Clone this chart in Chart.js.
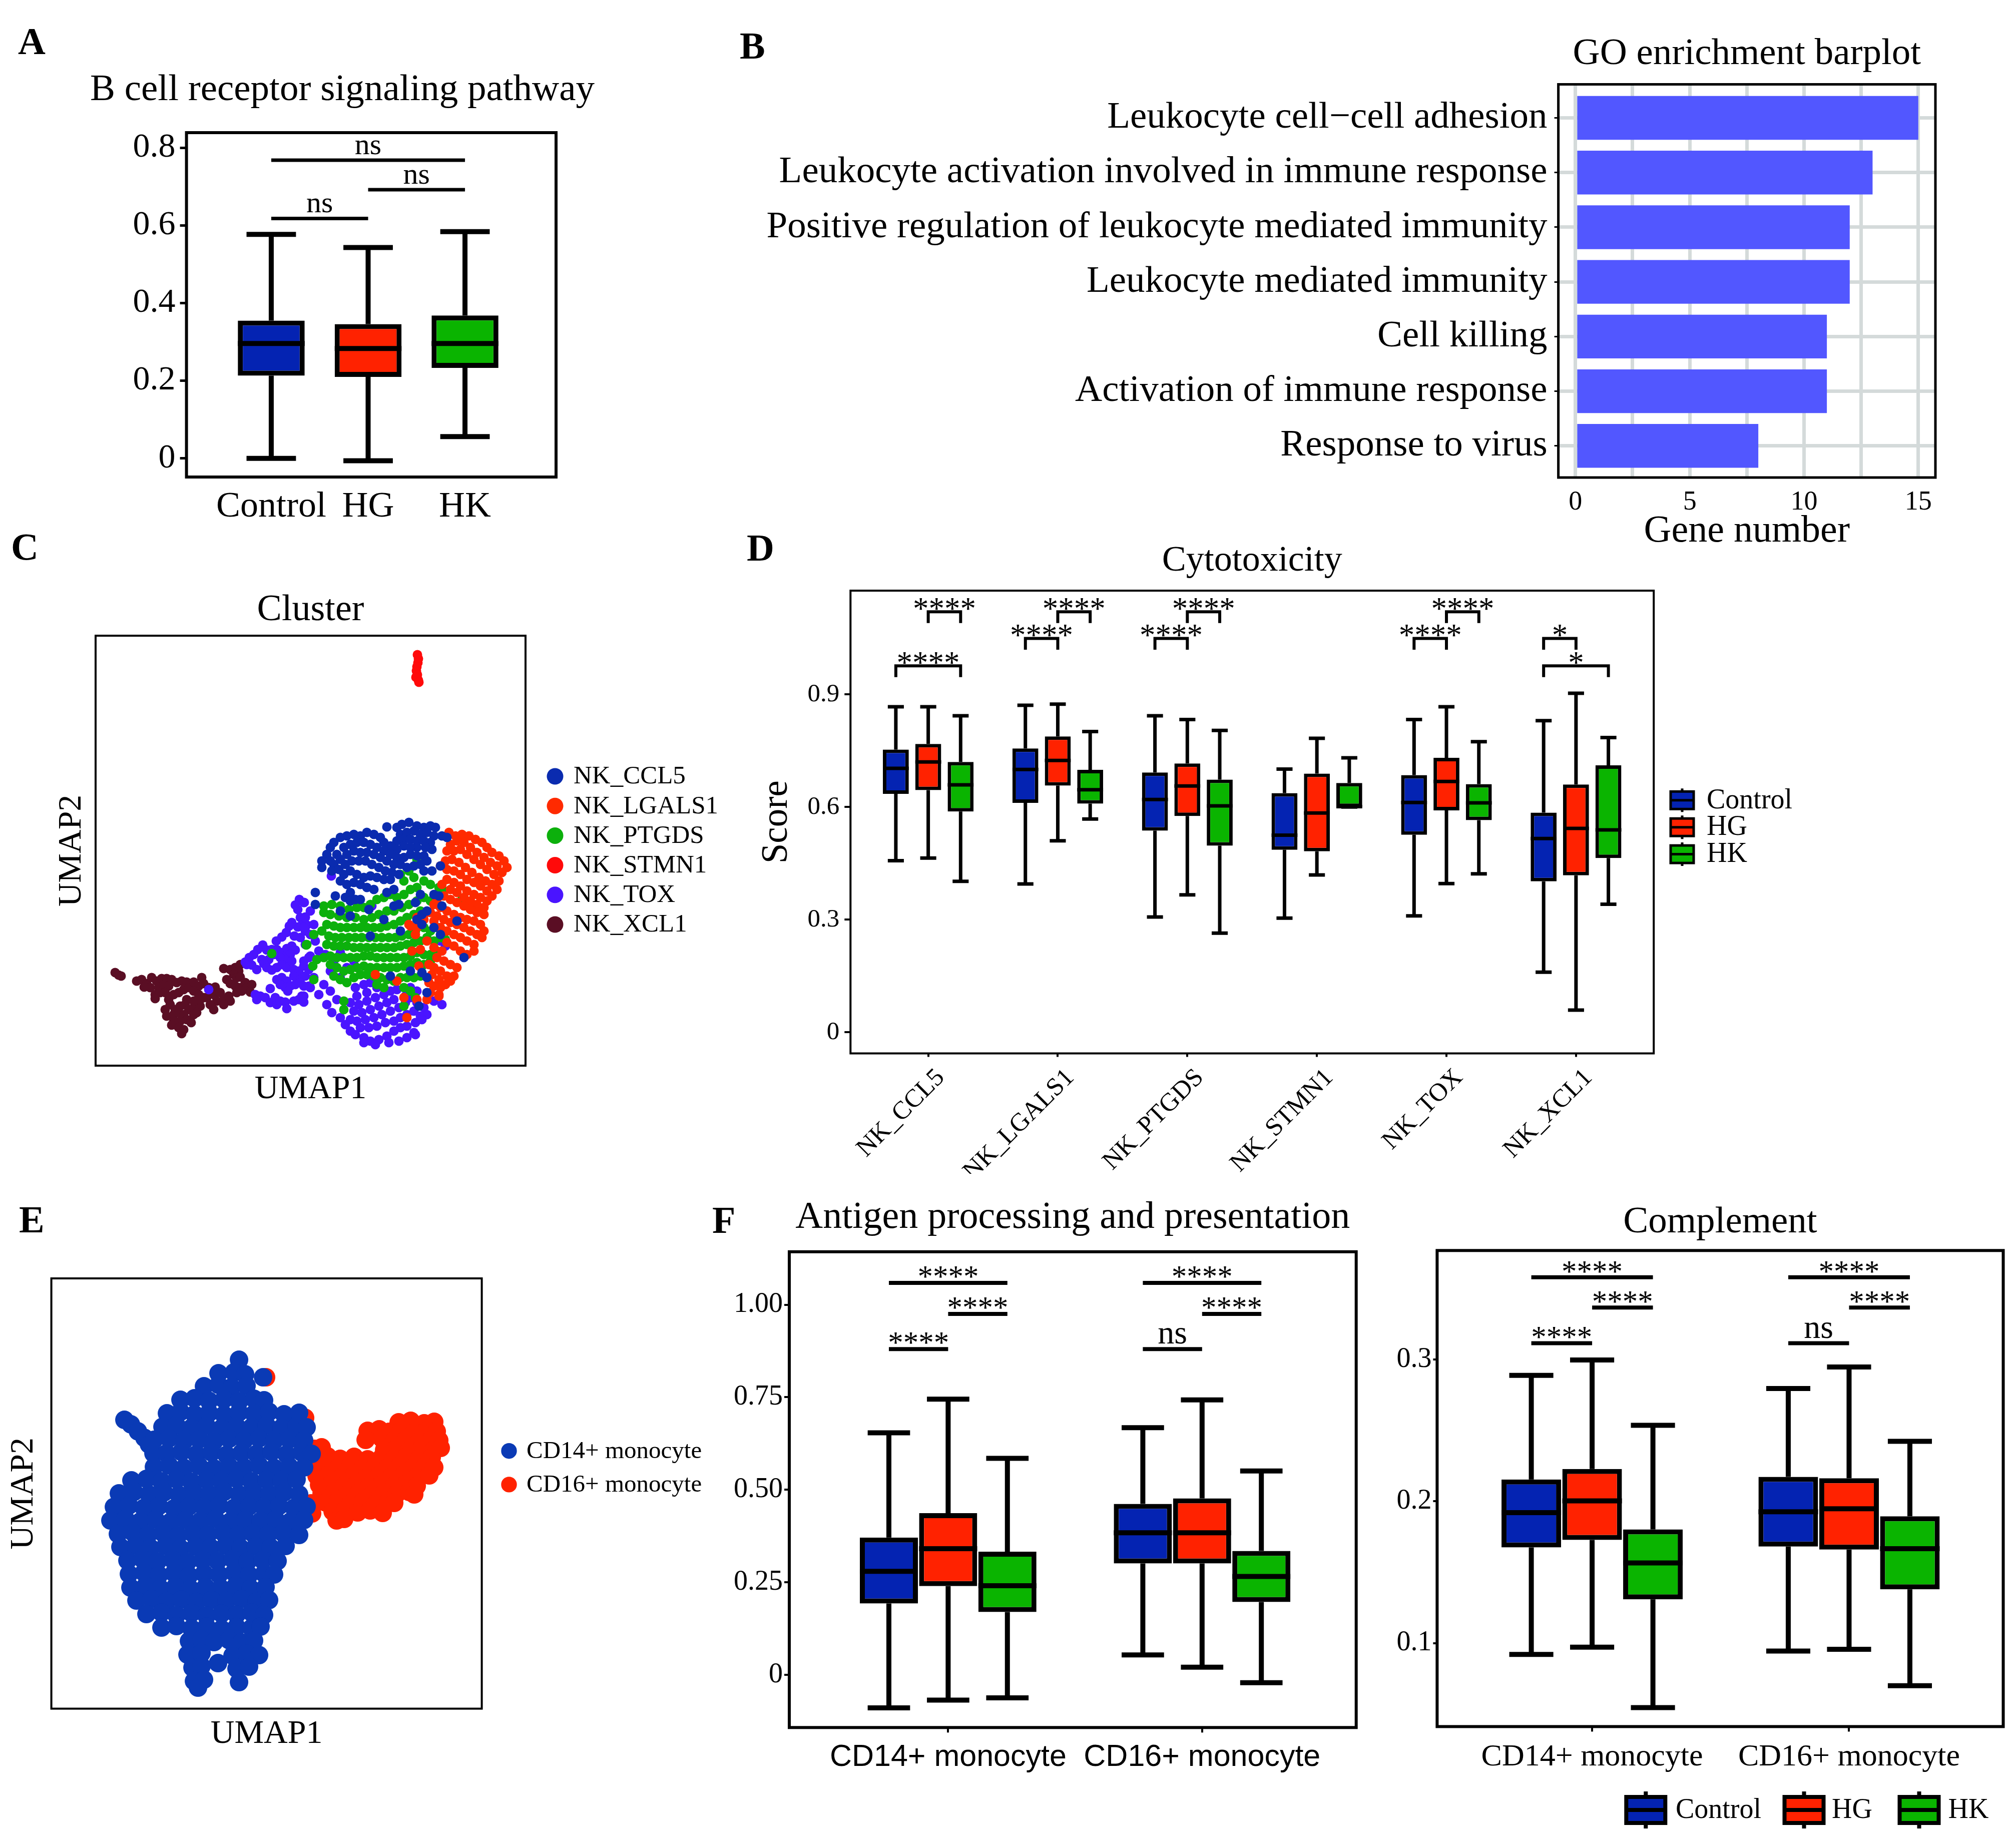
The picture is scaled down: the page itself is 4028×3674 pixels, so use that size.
<!DOCTYPE html>
<html><head><meta charset="utf-8">
<script src="https://cdn.jsdelivr.net/npm/chart.js@4.4.1/dist/chart.umd.min.js"></script>
<style>
html,body{margin:0;padding:0;background:#fff;}
#page{position:relative;width:4028px;height:3674px;background:#fff;overflow:hidden;}
#page canvas{position:absolute;}
.lbl{position:absolute;font-family:'Liberation Serif',serif;font-weight:bold;font-size:76px;line-height:76px;color:#000;}
</style></head><body><div id="page">
<div class="lbl" style="left:36px;top:44px">A</div>
<div class="lbl" style="left:1478px;top:53px">B</div>
<div class="lbl" style="left:22px;top:1054px">C</div>
<div class="lbl" style="left:1492px;top:1056px">D</div>
<div class="lbl" style="left:38px;top:2398px">E</div>
<div class="lbl" style="left:1423px;top:2399px">F</div>
</div>
<script>
// ---------------- DATA ----------------
const groups = ['Control', 'HG', 'HK'];
const groupColors = ['#0423B2', '#FF2200', '#0AB400'];

// A: B cell receptor signaling pathway  [min, q1, median, q3, max]
const bcrControl = [0.000, 0.213, 0.296, 0.355, 0.577];
const bcrHG      = [-0.006, 0.210, 0.283, 0.346, 0.543];
const bcrHK      = [0.056, 0.233, 0.296, 0.368, 0.584];
const bcrTicks = [0, 0.2, 0.4, 0.6, 0.8];
const bcrTickLabels = ['0', '0.2', '0.4', '0.6', '0.8'];
const bcrSig = [[0, 2, 0.768, 'ns'], [1, 2, 0.692, 'ns'], [0, 1, 0.618, 'ns']];

// B: GO enrichment
const goTerms = ['Leukocyte cell\u2212cell adhesion', 'Leukocyte activation involved in immune response',
  'Positive regulation of leukocyte mediated immunity', 'Leukocyte mediated immunity',
  'Cell killing', 'Activation of immune response', 'Response to virus'];
const goCounts = [15, 13, 12, 12, 11, 11, 8];
const goTicks = [0, 2.5, 5, 7.5, 10, 12.5, 15];
const goTickLabels = ['0', '', '5', '', '10', '', '15'];

// C: NK UMAP clusters (UMAP1, UMAP2)
const nkLegend = ['NK_CCL5', 'NK_LGALS1', 'NK_PTGDS', 'NK_STMN1', 'NK_TOX', 'NK_XCL1'];
const nkColors = ['#0A2BAF', '#FF2A00', '#0CB00C', '#FF0A0A', '#4A14FF', '#5A0E24'];
const umapCCL5 = [[582,477],[602,476],[612,482],[626,486],[642,479],[656,476],[669,479],[679,476],[609,462],[622,466],[636,469],[649,462],[662,466],[676,459],[602,449],[616,452],[629,452],[642,449],[656,449],[669,446],[672,432],[659,436],[642,436],[629,436],[616,439],[602,432],[589,439],[576,446],[569,456],[556,462],[542,466],[529,459],[516,462],[502,459],[489,456],[476,446],[469,436],[462,422],[452,409],[452,396],[469,409],[482,422],[496,436],[509,442],[522,446],[536,446],[549,442],[562,436],[576,429],[589,422],[602,416],[616,416],[629,422],[642,419],[656,419],[662,409],[649,402],[636,399],[622,396],[609,402],[596,402],[582,409],[569,416],[556,422],[542,426],[529,426],[516,429],[502,422],[489,412],[476,402],[472,389],[486,392],[499,402],[512,409],[526,409],[539,409],[552,402],[566,396],[579,389],[592,386],[606,382],[589,372],[576,372],[562,376],[549,379],[536,376],[522,382],[509,389],[496,382],[489,369],[502,362],[516,366],[529,362],[542,356],[556,352],[509,346],[499,336],[509,329],[519,332],[479,339],[439,346],[439,322],[582,346],[596,352],[489,309],[509,299],[546,312],[529,332],[692,459],[702,456],[689,399],[656,389],[672,389],[576,292],[609,269],[549,259],[642,292],[652,302],[652,282],[662,309],[676,342],[686,339],[692,319],[722,289],[736,216],[629,189],[652,186],[662,176],[589,179],[649,342],[639,326],[676,276],[689,262],[662,146],[646,119],[596,319],[606,322]];
const umapLGALS1 = [[706,466],[719,459],[732,462],[746,459],[759,452],[772,446],[782,436],[792,426],[806,419],[816,409],[822,396],[812,386],[802,399],[789,406],[776,416],[762,426],[749,436],[736,446],[722,449],[709,442],[702,429],[716,429],[729,432],[742,422],[756,412],[769,402],[782,392],[796,382],[806,369],[802,352],[792,362],[779,369],[766,376],[752,386],[739,396],[726,406],[712,412],[699,409],[689,399],[702,392],[716,389],[729,382],[742,372],[756,366],[769,359],[782,349],[792,339],[782,329],[769,336],[756,342],[742,349],[729,359],[716,366],[702,372],[692,362],[709,352],[722,346],[736,336],[749,329],[762,322],[776,316],[776,302],[762,306],[749,312],[736,319],[722,326],[709,332],[696,339],[682,332],[676,322],[689,316],[702,309],[716,302],[729,296],[742,292],[756,289],[769,282],[776,269],[772,256],[762,262],[749,269],[736,276],[722,282],[709,286],[696,292],[682,299],[669,306],[656,302],[642,296],[629,279],[642,276],[656,292],[676,289],[689,276],[702,269],[716,262],[729,256],[742,249],[756,242],[756,229],[742,222],[729,229],[716,239],[702,246],[692,229],[682,216],[696,209],[709,202],[722,196],[716,179],[702,179],[689,189],[676,196],[666,202],[672,182],[686,172],[699,162],[709,169],[689,156],[676,159],[666,166],[669,146],[686,142],[639,262],[649,232],[632,229],[646,199],[602,169],[616,136],[622,96],[642,132],[662,132],[686,139],[559,182],[626,282],[662,249],[676,236]];
const umapPTGDS = [[642,412],[626,389],[609,382],[616,369],[636,376],[656,369],[669,362],[686,356],[696,349],[642,356],[629,352],[616,342],[602,336],[589,342],[576,336],[562,332],[549,322],[536,316],[522,316],[506,312],[489,319],[472,322],[456,319],[456,306],[469,302],[486,299],[502,296],[519,296],[536,292],[552,296],[566,302],[582,309],[596,309],[612,316],[626,322],[642,329],[656,336],[669,329],[649,309],[636,302],[622,296],[609,289],[596,282],[582,279],[569,276],[556,276],[542,276],[529,276],[516,276],[502,276],[489,276],[476,279],[462,282],[452,269],[466,259],[479,256],[492,256],[506,256],[519,256],[532,256],[546,256],[559,256],[572,256],[586,256],[599,256],[612,259],[626,262],[639,269],[656,276],[669,269],[682,276],[696,269],[689,256],[676,249],[662,256],[649,249],[636,246],[622,242],[609,239],[596,236],[582,236],[569,236],[556,236],[542,236],[529,236],[516,236],[502,239],[489,239],[476,239],[462,242],[422,242],[436,262],[442,212],[456,216],[469,219],[482,216],[496,216],[509,216],[522,216],[536,219],[549,219],[562,216],[576,216],[589,216],[602,216],[616,216],[629,219],[642,226],[656,222],[669,222],[682,229],[669,209],[656,202],[642,206],[629,202],[616,199],[602,196],[589,196],[576,196],[562,196],[549,196],[536,199],[522,196],[509,192],[496,189],[482,196],[469,202],[476,179],[489,172],[502,166],[516,176],[529,182],[542,182],[556,179],[569,176],[582,172],[596,169],[609,176],[622,176],[636,176],[649,179],[562,162],[576,156],[616,156],[629,149],[639,136],[616,119],[496,129],[496,112],[436,172],[434,199],[699,252],[732,332],[421,241],[352,224]];
const umapSTMN1 = [[643,821],[645,813],[644,805],[642,797],[641,789],[643,781],[640,776],[645,770],[646,766]];
const umapTOX = [[407,332],[417,326],[399,321],[404,312],[409,296],[419,297],[414,286],[404,277],[422,281],[392,286],[387,279],[381,266],[372,257],[361,249],[397,259],[409,256],[419,269],[334,241],[324,232],[316,222],[307,216],[299,207],[302,202],[312,201],[322,192],[332,212],[342,231],[352,232],[362,232],[372,226],[382,234],[392,239],[399,231],[389,222],[379,212],[369,216],[356,222],[346,212],[336,204],[342,196],[352,191],[362,196],[372,202],[382,196],[392,209],[396,192],[406,189],[416,199],[426,216],[362,172],[372,176],[382,169],[396,179],[409,172],[419,179],[369,162],[379,156],[389,159],[399,162],[409,166],[426,159],[349,154],[384,149],[319,142],[329,139],[339,136],[322,132],[349,126],[359,136],[362,122],[369,129],[379,127],[382,114],[396,129],[406,132],[412,139],[416,127],[226,152],[416,326],[429,309],[419,296],[436,282],[416,276],[429,262],[439,249],[419,242],[446,229],[429,219],[416,209],[426,192],[436,176],[416,159],[429,156],[416,139],[446,142],[459,222],[476,209],[489,226],[469,189],[489,176],[502,196],[516,209],[456,162],[469,149],[482,132],[462,122],[472,106],[489,96],[499,82],[509,69],[519,156],[536,162],[549,166],[562,156],[542,146],[522,139],[509,126],[526,122],[542,129],[559,136],[576,142],[589,149],[602,152],[596,132],[582,126],[566,119],[549,112],[532,106],[516,109],[509,92],[522,89],[539,92],[556,96],[572,102],[589,109],[606,116],[619,126],[629,136],[642,126],[656,116],[662,102],[649,99],[636,109],[622,102],[609,96],[596,89],[579,86],[562,79],[546,76],[529,76],[519,62],[536,56],[549,49],[566,52],[582,59],[596,69],[609,76],[622,79],[639,86],[652,92],[636,66],[622,56],[606,49],[586,46],[559,42],[536,46],[639,62],[619,139],[676,129],[692,122],[699,239],[689,249],[642,149],[629,156],[471,379],[552,319]];
const umapXCL1 = [[39,186],[46,181],[51,179],[82,169],[92,172],[102,164],[112,176],[109,156],[97,157],[122,169],[132,174],[142,174],[152,172],[162,166],[172,169],[182,167],[126,156],[136,161],[146,159],[119,142],[129,146],[139,146],[119,134],[146,132],[156,142],[166,146],[176,152],[186,156],[196,167],[206,159],[212,176],[216,164],[196,149],[206,142],[216,136],[226,156],[239,157],[236,142],[249,146],[242,129],[256,132],[266,139],[269,129],[229,122],[236,112],[256,122],[149,122],[159,112],[169,119],[179,122],[186,112],[196,116],[209,119],[196,102],[202,106],[139,112],[142,99],[156,102],[166,106],[176,102],[182,92],[169,89],[156,89],[152,81],[166,76],[176,72],[172,64],[191,86],[182,132],[196,129],[209,132],[222,136],[256,194],[269,192],[279,196],[289,202],[286,189],[276,182],[282,176],[289,177],[262,172],[269,164],[279,159],[289,156],[299,166],[302,156],[312,162],[309,147],[282,146],[292,149]];

// D: Cytotoxicity score per NK cluster [min, q1, median, q3, max]
const nkClusters = ['NK_CCL5', 'NK_LGALS1', 'NK_PTGDS', 'NK_STMN1', 'NK_TOX', 'NK_XCL1'];
const cytoControl = [[0.457,0.635,0.703,0.753,0.867],[0.395,0.611,0.700,0.756,0.871],[0.307,0.537,0.620,0.692,0.843],[0.304,0.486,0.525,0.637,0.701],[0.310,0.526,0.612,0.685,0.833],[0.160,0.402,0.516,0.585,0.830]];
const cytoHG      = [[0.464,0.645,0.720,0.768,0.867],[0.510,0.657,0.724,0.788,0.874],[0.366,0.576,0.656,0.716,0.833],[0.419,0.482,0.584,0.689,0.783],[0.396,0.591,0.668,0.731,0.867],[0.059,0.418,0.543,0.660,0.903]];
const cytoHK      = [[0.402,0.588,0.659,0.720,0.843],[0.568,0.609,0.646,0.699,0.801],[0.264,0.497,0.603,0.673,0.804],[0.600,0.600,0.601,0.664,0.731],[0.422,0.565,0.611,0.661,0.774],[0.341,0.464,0.539,0.711,0.785]];
const scoreTicks = [0, 0.3, 0.6, 0.9];
const scoreTickLabels = ['0', '0.3', '0.6', '0.9'];
const cytoSig = [[0,1,2,1.120,'****'],[0,0,2,0.976,'****'],[1,0,1,1.049,'****'],[1,1,2,1.120,'****'],[2,0,1,1.049,'****'],[2,1,2,1.120,'****'],[4,0,1,1.049,'****'],[4,1,2,1.120,'****'],[5,0,1,1.049,'*'],[5,0,2,0.976,'*']];

// E: monocyte UMAP
const monoLegend = ['CD14+ monocyte', 'CD16+ monocyte'];
const monoColors = ['#0A3AB5', '#FF2200'];
const umapCD14 = [[375,697],[334,670],[365,672],[387,668],[423,662],[305,644],[334,647],[360,642],[390,645],[258,617],[286,620],[315,615],[345,618],[375,614],[405,619],[425,616],[231,590],[258,593],[286,588],[315,591],[345,587],[375,592],[405,589],[435,593],[465,588],[495,591],[146,577],[159,568],[173,554],[186,541],[195,528],[204,510],[222,563],[250,566],[280,561],[310,565],[340,560],[370,564],[400,562],[430,566],[460,561],[490,565],[510,562],[205,537],[235,540],[265,535],[295,538],[325,534],[355,539],[385,536],[415,540],[445,535],[475,538],[505,536],[230,510],[260,513],[290,508],[320,512],[350,507],[380,511],[410,509],[440,513],[470,508],[500,512],[520,509],[205,483],[235,486],[265,481],[295,485],[325,480],[355,484],[385,482],[415,486],[445,481],[475,484],[505,482],[160,456],[190,459],[220,454],[250,458],[280,453],[310,457],[340,455],[370,459],[400,454],[430,457],[460,455],[490,458],[135,430],[165,433],[195,428],[225,432],[255,427],[285,431],[315,429],[345,433],[375,428],[405,431],[435,429],[465,432],[495,428],[125,403],[155,406],[185,401],[215,405],[245,400],[275,404],[305,402],[335,406],[365,401],[395,404],[425,402],[455,405],[485,401],[510,404],[118,376],[148,379],[178,374],[208,378],[238,373],[268,377],[298,375],[328,379],[358,374],[388,377],[418,375],[448,378],[478,374],[505,377],[133,349],[163,352],[193,347],[223,351],[253,346],[283,350],[313,348],[343,352],[373,347],[403,350],[433,348],[463,351],[495,347],[138,323],[168,326],[198,321],[228,325],[258,320],[288,324],[318,322],[348,326],[378,321],[408,324],[438,322],[468,325],[152,296],[182,299],[212,294],[242,298],[272,293],[302,297],[332,295],[362,299],[392,294],[422,297],[452,295],[155,269],[185,272],[215,267],[245,271],[275,266],[305,270],[335,268],[365,272],[395,267],[425,270],[445,268],[158,242],[188,245],[218,240],[248,244],[278,239],[308,243],[338,241],[368,245],[398,240],[428,243],[170,216],[200,219],[230,214],[260,218],[290,213],[320,217],[350,215],[380,219],[410,214],[435,217],[190,189],[220,192],[250,187],[280,191],[310,186],[340,190],[370,188],[400,192],[425,187],[220,162],[250,165],[280,160],[310,164],[340,159],[370,163],[400,161],[418,164],[275,135],[300,138],[325,133],[355,137],[380,132],[405,136],[272,108],[300,111],[362,106],[390,110],[415,107],[282,82],[300,85],[333,91],[370,80],[395,84],[285,55],[305,58],[375,53],[293,42]];
const umapCD16 = [[694,572],[718,575],[745,570],[765,573],[632,555],[655,558],[675,553],[700,557],[725,552],[750,556],[770,554],[628,537],[660,540],[685,535],[710,539],[735,534],[760,538],[775,536],[525,519],[540,522],[665,517],[690,521],[715,516],[740,520],[765,518],[778,521],[527,501],[552,504],[577,499],[605,503],[632,498],[660,502],[685,500],[710,504],[735,499],[760,502],[522,483],[547,486],[572,481],[597,485],[622,480],[647,484],[672,482],[697,486],[722,481],[747,484],[765,482],[530,465],[555,468],[580,463],[605,467],[630,462],[655,466],[680,464],[705,468],[730,463],[755,466],[535,447],[560,450],[585,445],[610,449],[635,444],[660,448],[685,446],[710,450],[730,445],[540,430],[565,433],[590,428],[615,432],[640,427],[665,431],[690,429],[715,433],[725,428],[548,412],[573,415],[598,410],[623,414],[648,409],[673,413],[685,411],[562,394],[587,397],[612,392],[637,396],[662,391],[570,376],[585,379],[429,662],[507,581],[519,410],[521,390]];

// F: antigen processing & complement [min, q1, median, q3, max]
const monoCats = ['CD14+ monocyte', 'CD16+ monocyte'];
const antigenControl = [[-0.089,0.193,0.280,0.371,0.654],[0.054,0.301,0.384,0.462,0.668]];
const antigenHG      = [[-0.068,0.240,0.341,0.437,0.745],[0.021,0.301,0.384,0.477,0.743]];
const antigenHK      = [[-0.062,0.170,0.241,0.333,0.585],[-0.021,0.197,0.266,0.335,0.551]];
const antigenTicks = [0, 0.25, 0.5, 0.75, 1.0];
const antigenTickLabels = ['0', '0.25', '0.50', '0.75', '1.00'];
const antigenSig = [[0,0,2,1.059,'****'],[0,1,2,0.975,'****'],[0,0,1,0.880,'****'],[1,0,2,1.059,'****'],[1,1,2,0.975,'****'],[1,0,1,0.880,'ns']];
const complControl = [[0.0920,0.1675,0.1920,0.2154,0.2888],[0.0944,0.1681,0.1926,0.2172,0.2796]];
const complHG      = [[0.0971,0.1728,0.2003,0.2228,0.2997],[0.0956,0.1660,0.1947,0.2163,0.2947]];
const complHK      = [[0.0545,0.1308,0.1565,0.1802,0.2536],[0.0699,0.1379,0.1666,0.1894,0.2423]];
const complTicks = [0.1, 0.2, 0.3];
const complTickLabels = ['0.1', '0.2', '0.3'];
const complSig = [[0,0,2,0.358,'****'],[0,1,2,0.3367,'****'],[0,0,1,0.3115,'****'],[1,0,2,0.358,'****'],[1,1,2,0.3367,'****'],[1,0,1,0.3115,'ns']];

// ---------------- RENDERING ----------------
const SERIF = "'Liberation Serif', 'Times New Roman', serif";
const SANS = "'Liberation Sans', Arial, sans-serif";
Chart.defaults.font.family = SERIF;
Chart.defaults.color = '#000';
const PAGE = document.getElementById('page');

function mkCanvas(r) {
  const c = document.createElement('canvas');
  c.width = r.right - r.left; c.height = r.bottom - r.top;
  c.style.left = r.left + 'px'; c.style.top = r.top + 'px';
  c.style.width = c.width + 'px'; c.style.height = c.height + 'px';
  PAGE.appendChild(c);
  return c;
}
function titleCfg(text, fs, mid, cv, P, extra) {
  return Object.assign({ display: true, text: text, color: '#000',
    font: { family: SERIF, size: fs, weight: 'normal', lineHeight: 1.2 },
    padding: { top: mid - 0.6 * fs - cv.top, bottom: P.T - mid - 0.6 * fs }, fullSize: false }, extra || {});
}
function baseOpts() {
  return { responsive: false, animation: false, events: [], devicePixelRatio: 1,
    plugins: { legend: { display: false }, tooltip: { enabled: false } } };
}
function catAxis(cats, min, max, cv, P, font, tickOpts, gridOpts) {
  return { type: 'linear', min: min, max: max, offset: false,
    afterBuildTicks: s => { s.ticks = cats.map((c, i) => ({ value: i + 1 })); },
    ticks: Object.assign({ callback: (v, i) => cats[i], font: font, color: '#000', autoSkip: false, maxRotation: 0, minRotation: 0 }, tickOpts),
    grid: Object.assign({ display: true, drawOnChartArea: false, offset: false, color: '#000' }, gridOpts),
    border: { display: false },
    afterFit: s => { s.height = cv.bottom - P.B; } };
}
function valAxis(tv, tl, min, max, cv, P, font, pad, tlen, lw) {
  return { type: 'linear', min: min, max: max,
    afterBuildTicks: s => { s.ticks = tv.map(v => ({ value: v })); },
    ticks: { callback: (v, i) => tl[i], font: font, color: '#000', padding: pad, autoSkip: false },
    grid: { display: true, drawOnChartArea: false, drawTicks: true, tickLength: tlen, color: '#000', lineWidth: lw },
    border: { display: false },
    afterFit: s => { s.width = P.L - cv.left; } };
}
function drawBoxKey(ctx, cx, cy, w, h, stub, color, lw) {
  ctx.save();
  ctx.strokeStyle = '#000'; ctx.lineWidth = lw;
  ctx.beginPath();
  ctx.moveTo(cx, cy - h / 2 - stub); ctx.lineTo(cx, cy - h / 2);
  ctx.moveTo(cx, cy + h / 2); ctx.lineTo(cx, cy + h / 2 + stub);
  ctx.stroke();
  ctx.fillStyle = color; ctx.fillRect(cx - w / 2, cy - h / 2, w, h);
  ctx.strokeRect(cx - w / 2, cy - h / 2, w, h);
  ctx.beginPath(); ctx.moveTo(cx - w / 2, cy); ctx.lineTo(cx + w / 2, cy); ctx.stroke();
  ctx.restore();
}
// plugin drawing whiskers, medians, significance marks, frame, free title and legends
function boxExtras(cfg) {
  return {
    id: 'boxExtras' + cfg.name,
    beforeDatasetsDraw(chart) {
      if (!cfg.stats) return;
      const ctx = chart.ctx, ys = chart.scales.y;
      ctx.save(); ctx.strokeStyle = '#000'; ctx.lineWidth = cfg.lw; ctx.lineCap = 'butt';
      cfg.stats.forEach((set, d) => {
        const meta = chart.getDatasetMeta(d);
        set.forEach((s, i) => {
          const el = meta.data[i]; if (!el) return;
          const cx = el.x, half = el.width * cfg.cap / 2;
          const p = s.map(v => ys.getPixelForValue(v));
          ctx.beginPath();
          ctx.moveTo(cx, p[4]); ctx.lineTo(cx, p[3]);
          ctx.moveTo(cx, p[1]); ctx.lineTo(cx, p[0]);
          ctx.moveTo(cx - half, p[4]); ctx.lineTo(cx + half, p[4]);
          ctx.moveTo(cx - half, p[0]); ctx.lineTo(cx + half, p[0]);
          ctx.stroke();
        });
      });
      ctx.restore();
    },
    afterDatasetsDraw(chart) {
      const ctx = chart.ctx, ys = chart.scales.y;
      ctx.save();
      if (cfg.stats) {
        ctx.strokeStyle = '#000'; ctx.lineWidth = cfg.lw;
        cfg.stats.forEach((set, d) => {
          const meta = chart.getDatasetMeta(d);
          set.forEach((s, i) => {
            const el = meta.data[i]; if (!el) return;
            const py = ys.getPixelForValue(s[2]);
            ctx.beginPath(); ctx.moveTo(el.x - el.width / 2, py); ctx.lineTo(el.x + el.width / 2, py); ctx.stroke();
          });
        });
      }
      if (cfg.sig) {
        ctx.lineWidth = cfg.sigLw; ctx.strokeStyle = '#000'; ctx.fillStyle = '#000';
        ctx.textAlign = 'center'; ctx.textBaseline = 'alphabetic';
        cfg.sig.forEach(s => {
          let x1, x2, v, t;
          if (cfg.single) {
            const m = chart.getDatasetMeta(0);
            x1 = m.data[s[0]].x; x2 = m.data[s[1]].x; v = s[2]; t = s[3];
          } else {
            x1 = chart.getDatasetMeta(s[1]).data[s[0]].x; x2 = chart.getDatasetMeta(s[2]).data[s[0]].x; v = s[3]; t = s[4];
          }
          const py = ys.getPixelForValue(v);
          ctx.beginPath();
          if (cfg.tip) {
            const pt = ys.getPixelForValue(v - cfg.tip);
            ctx.moveTo(x1, pt); ctx.lineTo(x1, py); ctx.lineTo(x2, py); ctx.lineTo(x2, pt);
          } else { ctx.moveTo(x1, py); ctx.lineTo(x2, py); }
          ctx.stroke();
          const star = t.indexOf('*') >= 0;
          const fs = star ? cfg.starFs : cfg.nsFs;
          ctx.font = fs + 'px ' + SERIF;
          const gap = star ? cfg.starGap : cfg.nsGap;
          ctx.fillText(t, (x1 + x2) / 2, py - gap + (star ? 0.26 * fs : 0));
        });
      }
      ctx.restore();
    },
    afterDraw(chart) {
      const ctx = chart.ctx, a = chart.chartArea, cv = cfg.cv;
      ctx.save();
      ctx.strokeStyle = '#000'; ctx.lineWidth = cfg.frame;
      ctx.strokeRect(a.left, a.top, a.right - a.left, a.bottom - a.top);
      if (cfg.text) {
        ctx.fillStyle = '#000'; ctx.textAlign = 'left'; ctx.textBaseline = 'middle';
        ctx.font = cfg.text.fs + 'px ' + SERIF;
        ctx.fillText(cfg.text.str, cfg.text.x - cv.left, cfg.text.y - cv.top);
      }
      const L = cfg.legend;
      if (L) {
        ctx.fillStyle = '#000'; ctx.textAlign = 'left'; ctx.textBaseline = 'middle';
        ctx.font = L.fs + 'px ' + SERIF;
        L.items.forEach((lab, i) => {
          const kx = (Array.isArray(L.kx) ? L.kx[i] : L.kx) - cv.left;
          const ky = (Array.isArray(L.ky) ? L.ky[i] : L.ky) - cv.top;
          const tx = (Array.isArray(L.tx) ? L.tx[i] : L.tx) - cv.left;
          if (L.type === 'box') drawBoxKey(ctx, kx, ky, L.w, L.h, L.stub, L.colors[i], L.lw);
          else { ctx.beginPath(); ctx.fillStyle = L.colors[i]; ctx.arc(kx, ky, L.r, 0, Math.PI * 2); ctx.fill(); }
          ctx.fillStyle = '#000';
          ctx.fillText(lab, tx, ky + 1);
        });
      }
      ctx.restore();
    }
  };
}

// ---------- A ----------
(function () {
  const cv = { left: 170, top: 120, right: 1230, bottom: 1070 };
  const P = { L: 372.6, T: 265, R: 1111, B: 953 };
  const c = mkCanvas(cv);
  const opts = baseOpts();
  opts.layout = { padding: { left: 0, top: P.T - cv.top, right: cv.right - P.R, bottom: 0 } };
  opts.scales = {
    x: catAxis(groups, 0.125, 3.94, cv, P, { size: 72 }, { padding: 17 }, { display: false, drawTicks: false }),
    y: valAxis(bcrTicks, bcrTickLabels, -0.048, 0.839, cv, P, { size: 68 }, 9, 13, 5)
  };
  const stats = [bcrControl, bcrHG, bcrHK];
  new Chart(c, {
    type: 'bar',
    data: { datasets: [{ label: 'B cell receptor signaling pathway',
      data: stats.map((s, i) => ({ x: i + 1, y: [s[1], s[3]] })),
      backgroundColor: groupColors, borderColor: '#000', borderWidth: 10, borderSkipped: false,
      categoryPercentage: 1, barPercentage: 0.69 }] },
    options: opts,
    plugins: [boxExtras({ name: 'A', cv: cv, stats: [stats], lw: 10, cap: 0.74, single: true, sig: bcrSig,
      sigLw: 7, starFs: 62, nsFs: 60, starGap: 8, nsGap: 12, frame: 6,
      text: { str: 'B cell receptor signaling pathway', x: 180, y: 180, fs: 75 } })]
  });
})();

// ---------- B ----------
(function () {
  const cv = { left: 1490, top: 30, right: 3900, bottom: 1110 };
  const P = { L: 3113.6, T: 168.5, R: 3867, B: 954 };
  const c = mkCanvas(cv);
  const opts = baseOpts();
  opts.indexAxis = 'y';
  opts.layout = { padding: { left: 0, top: 0, right: cv.right - P.R, bottom: 0 } };
  opts.plugins.title = titleCfg('GO enrichment barplot', 75, 108.5, cv, P);
  opts.scales = {
    x: { type: 'linear', min: -0.75, max: 15.75,
      afterBuildTicks: s => { s.ticks = goTicks.map(v => ({ value: v })); },
      ticks: { callback: (v, i) => goTickLabels[i], font: { size: 54 }, color: '#000', padding: 17, autoSkip: false, maxRotation: 0 },
      grid: { display: true, drawOnChartArea: true, drawTicks: false, color: '#D4DADA', lineWidth: 7 },
      border: { display: false },
      title: { display: true, text: 'Gene number', font: { size: 76 }, padding: { top: 0, bottom: 2 } },
      afterFit: s => { s.height = cv.bottom - P.B; } },
    y: { type: 'linear', min: 0.386, max: 7.579, reverse: true, offset: false,
      afterBuildTicks: s => { s.ticks = goTerms.map((t, i) => ({ value: i + 1 })); },
      ticks: { callback: (v, i) => goTerms[i], font: { size: 75 }, color: '#000', padding: 14, autoSkip: false },
      grid: { display: true, drawOnChartArea: true, drawTicks: true, tickLength: 8, color: '#D4DADA', lineWidth: 7, tickColor: '#000', tickWidth: 3, offset: false },
      border: { display: false },
      afterFit: s => { s.width = P.L - cv.left; } }
  };
  new Chart(c, {
    type: 'bar',
    data: { datasets: [{ label: 'Gene number', data: goCounts.map((v, i) => ({ x: v, y: i + 1 })),
      backgroundColor: '#5257FF', borderWidth: 0, categoryPercentage: 0.8, barPercentage: 1 }] },
    options: opts,
    plugins: [boxExtras({ name: 'B', cv: cv, frame: 5 })]
  });
})();

// ---------- UMAP helper ----------
function umapChart(name, cv, P, lists, colors, labels, radius, title, xtPad, ytPad, legend) {
  const c = mkCanvas(cv);
  const opts = baseOpts();
  opts.layout = { padding: { left: 0, top: title ? 0 : P.T - cv.top, right: cv.right - P.R, bottom: 0 } };
  if (title) opts.plugins.title = titleCfg(title.text, title.fs, title.mid, cv, P);
  opts.scales = {
    x: { type: 'linear', min: 0, max: P.R - P.L, ticks: { display: false }, grid: { display: false }, border: { display: false },
      title: { display: true, text: 'UMAP1', font: { size: 66 }, padding: { top: 0, bottom: xtPad } },
      afterFit: s => { s.height = cv.bottom - P.B; } },
    y: { type: 'linear', min: 0, max: P.B - P.T, ticks: { display: false }, grid: { display: false }, border: { display: false },
      title: { display: true, text: 'UMAP2', font: { size: 66 }, padding: { top: ytPad, bottom: 0 } },
      afterFit: s => { s.width = P.L - cv.left; } }
  };
  new Chart(c, {
    type: 'scatter',
    data: { datasets: lists.map((l, i) => ({ label: labels[i], data: l.map(p => ({ x: p[0], y: p[1] })),
      backgroundColor: colors[i], pointRadius: radius, pointBorderWidth: 0, borderWidth: 0 })) },
    options: opts,
    plugins: [boxExtras({ name: name, cv: cv, frame: 4, legend: legend })]
  });
}
// ---------- C ----------
umapChart('C', { left: 60, top: 1150, right: 1480, bottom: 2240 }, { L: 191, T: 1270, R: 1050, B: 2129 },
  [umapCCL5, umapLGALS1, umapPTGDS, umapSTMN1, umapTOX, umapXCL1], nkColors, nkLegend, 9.5,
  { text: 'Cluster', fs: 74, mid: 1220 }, 24, 44,
  { type: 'dot', items: nkLegend, colors: nkColors, kx: 1109, ky: [1551, 1610.2, 1669.4, 1728.6, 1787.8, 1847], tx: 1146, r: 16.5, fs: 51 });
// ---------- E ----------
umapChart('E', { left: 0, top: 2520, right: 1440, bottom: 3530 }, { L: 102.6, T: 2554, R: 962.6, B: 3413.6 },
  [umapCD14, umapCD16], monoColors, monoLegend, 18.5, null, 26, 8.5,
  { type: 'dot', items: monoLegend, colors: monoColors, kx: 1017, ky: [2898.7, 2965.9], tx: 1052, r: 15.7, fs: 49 });

// ---------- grouped boxplot helper ----------
function groupedBox(name, cv, P, cats, stats, xr, yr, tv, tl, o) {
  const c = mkCanvas(cv);
  const opts = baseOpts();
  opts.layout = { padding: { left: 0, top: 0, right: cv.right - P.R, bottom: 0 } };
  opts.plugins.title = titleCfg(o.title, o.titleFs, o.titleMid, cv, P);
  const x = catAxis(cats, xr[0], xr[1], cv, P, o.xFont, o.xTicks, { drawTicks: true, tickLength: o.xTl, lineWidth: 4 });
  const y = valAxis(tv, tl, yr[0], yr[1], cv, P, { size: o.yFs }, o.yPad, o.yTl, 4);
  if (o.yTitle) y.title = { display: true, text: o.yTitle, font: { size: 73 }, padding: { top: o.yTitlePad, bottom: 0 } };
  opts.scales = { x: x, y: y };
  new Chart(c, {
    type: 'bar',
    data: { datasets: stats.map((set, d) => ({ label: groups[d],
      data: set.map((s, i) => ({ x: i + 1, y: [s[1], s[3]] })),
      backgroundColor: groupColors[d], borderColor: '#000', borderWidth: o.lw, borderSkipped: false,
      categoryPercentage: o.catPct, barPercentage: o.barPct })) },
    options: opts,
    plugins: [boxExtras({ name: name, cv: cv, stats: stats, lw: o.lw, cap: o.cap, sig: o.sig, tip: o.tip,
      sigLw: o.sigLw, starFs: o.starFs, nsFs: o.nsFs, starGap: o.starGap, nsGap: o.nsGap, frame: o.frame, legend: o.legend })]
  });
}
// ---------- D ----------
groupedBox('D', { left: 1500, top: 1060, right: 3640, bottom: 2345 }, { L: 1699.3, T: 1180, R: 3304.2, B: 2104.5 },
  nkClusters, [cytoControl, cytoHG, cytoHK], [0.4, 6.6], [-0.0563, 1.1764], scoreTicks, scoreTickLabels,
  { title: 'Cytotoxicity', titleFs: 72, titleMid: 1121, xFont: { size: 51 },
    xTicks: { minRotation: 45, maxRotation: 45, padding: 12, labelOffset: 25 }, xTl: 7,
    yFs: 51, yPad: 10, yTl: 12, yTitle: 'Score', yTitlePad: 9,
    lw: 7, cap: 0.62, catPct: 0.75, barPct: 0.8, sig: cytoSig, tip: 0.03, sigLw: 6, starFs: 63, nsFs: 59, starGap: 2, nsGap: 6, frame: 4,
    legend: { type: 'box', items: groups, colors: groupColors, kx: 3361, ky: [1598.8, 1652.7, 1706.6], tx: 3410, w: 46, h: 35, stub: 6, lw: 5, fs: 56 } });
// ---------- F left ----------
groupedBox('F1', { left: 1440, top: 2380, right: 2745, bottom: 3560 }, { L: 1577, T: 2500.8, R: 2709.7, B: 3451.3 },
  monoCats, [antigenControl, antigenHG, antigenHK], [0.3745, 2.6068], [-0.142, 1.143], antigenTicks, antigenTickLabels,
  { title: 'Antigen processing and presentation', titleFs: 76, titleMid: 2433, xFont: { size: 61, family: SANS },
    xTicks: { padding: 13 }, xTl: 10, yFs: 56, yPad: 3, yTl: 10,
    lw: 10, cap: 0.73, catPct: 0.70, barPct: 0.98, sig: antigenSig, tip: 0, sigLw: 8, starFs: 61, nsFs: 66, starGap: 9, nsGap: 11, frame: 6 });
// ---------- F right ----------
groupedBox('F2', { left: 2760, top: 2380, right: 4028, bottom: 3674 }, { L: 2871.4, T: 2498.3, R: 4002.5, B: 3449.4 },
  monoCats, [complControl, complHG, complHK], [0.3968, 2.6], [0.0411, 0.3769], complTicks, complTickLabels,
  { title: 'Complement', titleFs: 75, titleMid: 2442, xFont: { size: 62 },
    xTicks: { padding: 14 }, xTl: 10, yFs: 56, yPad: 3, yTl: 8,
    lw: 10, cap: 0.74, catPct: 0.71, barPct: 0.98, sig: complSig, tip: 0, sigLw: 8, starFs: 61, nsFs: 66, starGap: 8, nsGap: 11, frame: 6,
    legend: { type: 'box', items: groups, colors: groupColors, kx: [3288.3, 3604.5, 3834.5], ky: 3616, tx: [3347.9, 3660, 3892.5], w: 78, h: 52, stub: 11, lw: 8, fs: 56 } });
</script>
</body></html>
